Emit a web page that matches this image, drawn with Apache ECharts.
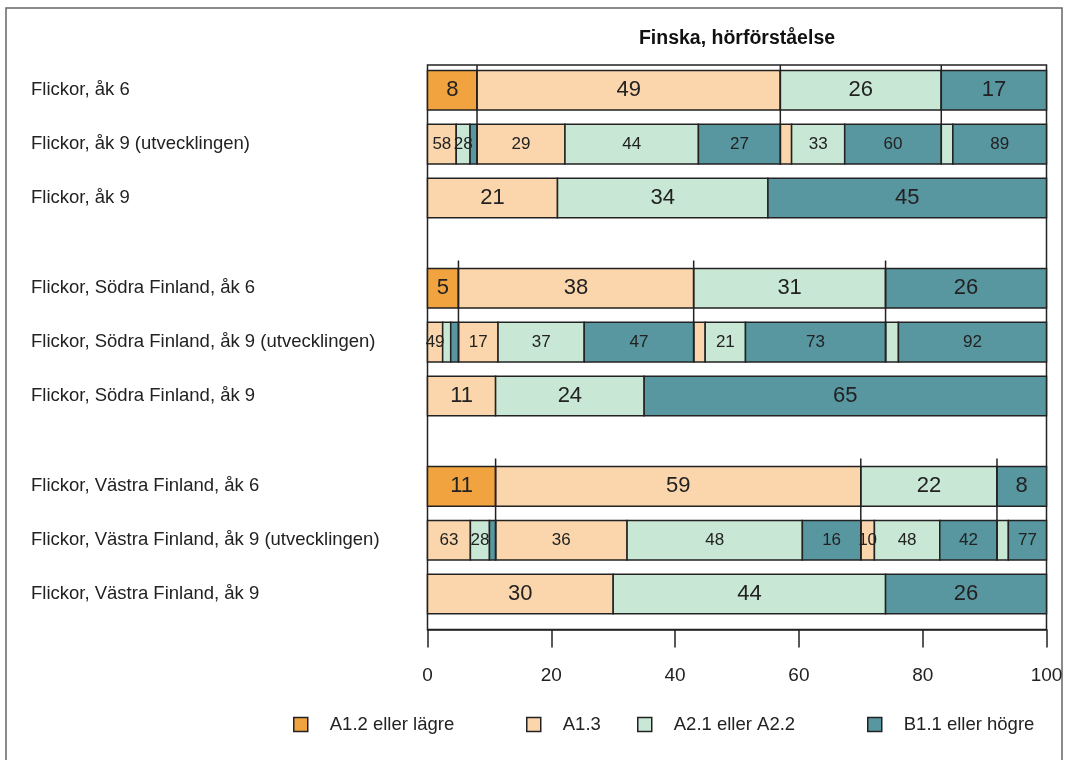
<!DOCTYPE html>
<html>
<head>
<meta charset="utf-8">
<title>Finska, hörförståelse</title>
<script src="https://cdn.jsdelivr.net/npm/echarts@6/dist/echarts.min.js"></script>
<style>
  html, body { margin: 0; padding: 0; background: #fff; }
  #chart { width: 1067px; height: 760px; }
</style>
</head>
<body>
<div id="chart"></div>
<script>
// radnamn uppifrån och ner
const rowLabels = [
  'Flickor, åk 6',
  'Flickor, åk 9 (utvecklingen)',
  'Flickor, åk 9',
  'Flickor, Södra Finland, åk 6',
  'Flickor, Södra Finland, åk 9 (utvecklingen)',
  'Flickor, Södra Finland, åk 9',
  'Flickor, Västra Finland, åk 6',
  'Flickor, Västra Finland, åk 9 (utvecklingen)',
  'Flickor, Västra Finland, åk 9'
]
const levels = ['A1.2 eller lägre', 'A1.3', 'A2.1 eller A2.2', 'B1.1 eller högre']
const colors = ['#F0A33F', '#FBD5AB', '#C8E7D5', '#5896A0']

// andel (%) per nivå i åk 6 – Flickor, Södra, Västra
const grade6 = [
  [8, 49, 26, 17],
  [5, 38, 31, 26],
  [11, 59, 22, 8]
]
// andel (%) per nivå i åk 9
const grade9 = [
  [0, 21, 34, 45],
  [0, 11, 24, 65],
  [0, 30, 44, 26]
]
// utvecklingen: för varje nivå i åk 6, hur de fördelar sig (%) i åk 9
const flickorUtv = [[0, 58, 28, 14], [0, 29, 44, 27], [0, 7, 33, 60], [0, 0, 11, 89]]
const sodraUtv = [[0, 49, 26, 25], [0, 17, 37, 47], [0, 6, 21, 73], [0, 0, 8, 92]]
const vastraUtv = [[0, 63, 28, 9], [0, 36, 48, 16], [0, 10, 48, 42], [0, 0, 23, 77]]
const xTicks = [0, 20, 40, 60, 80, 100]

const utv = [flickorUtv, sodraUtv, vastraUtv]
const sansFont = "'Liberation Sans', Arial, sans-serif"
const narrowFont = "'Liberation Sans Narrow', 'Arial Narrow', 'Liberation Sans', sans-serif"

// layout: tre rader per grupp, lite luft mellan grupperna
const groupStep = 3.68
const barHeight = 0.735
const minLabelWidth = 2.15
const rowPos = rowLabels.map((_, i) => Math.floor(i / 3) * groupStep + i % 3)

// bygg segmenten: [start, slut, rad, etikett, huvudrad?]
const segments = levels.map(() => [])
const connectors = []

function addPlain(values, pos) {
  let cum = 0
  values.forEach((v, k) => {
    if (v > 0) segments[k].push([cum, cum + v, pos, v, 1])
    cum += v
  })
}

grade6.forEach((row6, g) => {
  const pos = rowPos[g * 3]
  addPlain(row6, pos)
  addPlain(grade9[g], pos + 2)
  let cum = 0
  row6.forEach((share, k) => {
    const split = utv[g][k]
    const total = split.reduce((a, b) => a + b, 0)
    split.forEach((pct, j) => {
      if (pct > 0) {
        const w = share * pct / total
        segments[j].push([cum, cum + w, pos + 1, pct, 0])
        cum += w
      }
    })
    if (k < row6.length - 1) connectors.push([cum, pos])
  })
})

function renderSegment(params, api) {
  const x0 = api.value(0)
  const x1 = api.value(1)
  const pos = api.value(2)
  const start = api.coord([x0, pos])
  const end = api.coord([x1, pos])
  const h = api.size([0, barHeight])[1]
  const isMain = api.value(4) === 1
  const el = {
    type: 'rect',
    shape: { x: start[0], y: start[1] - h / 2, width: end[0] - start[0], height: h },
    style: { fill: api.visual('color'), stroke: '#222', lineWidth: 1.5 }
  }
  if (isMain || x1 - x0 >= minLabelWidth) {
    el.textContent = {
      style: { text: String(api.value(3)), fill: '#222', fontSize: isMain ? 22 : 17, fontFamily: narrowFont }
    }
    el.textConfig = { position: 'inside' }
  }
  return el
}

// lodräta linjer som kopplar åk 6 till utvecklingen
function renderConnector(params, api) {
  const top = api.coord([api.value(0), api.value(1)])
  const bottom = api.coord([api.value(0), api.value(1) + 1])
  const h = api.size([0, barHeight])[1]
  return {
    type: 'line',
    shape: { x1: top[0], y1: top[1] - h / 2 - 8, x2: bottom[0], y2: bottom[1] + h / 2 },
    style: { stroke: '#222', lineWidth: 1.5 }
  }
}

const series = levels.map((name, k) => ({
  name: name,
  type: 'custom',
  renderItem: renderSegment,
  data: segments[k],
  encode: { x: [0, 1], y: 2 },
  itemStyle: { color: colors[k] },
  z: 2
}))
series.push({
  type: 'custom',
  renderItem: renderConnector,
  data: connectors,
  encode: { x: 0, y: 1 },
  clip: true,
  silent: true,
  z: 3
})

const legendLeft = [293, 526, 637, 867]

const option = {
  animation: false,
  title: {
    text: 'Finska, hörförståelse',
    left: 737,
    textAlign: 'center',
    top: 29,
    padding: 0,
    textStyle: { fontFamily: sansFont, fontSize: 19.5, fontWeight: 'bold', color: '#111' }
  },
  legend: levels.map((name, i) => ({
    data: [name],
    left: legendLeft[i],
    top: 715,
    padding: 0,
    icon: 'rect',
    itemWidth: 14,
    itemHeight: 14,
    selectedMode: false,
    itemStyle: { borderColor: '#222', borderWidth: 1.5 },
    textStyle: { fontFamily: sansFont, fontSize: 18.5, color: '#222', padding: [0, 0, 0, 17] }
  })),
  grid: {
    left: 427.5,
    right: 20.5,
    top: 65,
    bottom: 130.5,
    show: true,
    borderColor: '#222',
    borderWidth: 1.5,
    outerBoundsMode: 'none'
  },
  xAxis: {
    type: 'value',
    min: xTicks[0],
    max: xTicks[xTicks.length - 1],
    interval: xTicks[1] - xTicks[0],
    axisLine: { show: true, onZero: false, lineStyle: { color: '#222', width: 1.5 } },
    axisTick: { show: true, inside: false, length: 18, lineStyle: { color: '#222', width: 1.5 } },
    axisLabel: { margin: 37, fontFamily: sansFont, fontSize: 19, color: '#222' },
    splitLine: { show: false }
  },
  yAxis: {
    type: 'value',
    inverse: true,
    min: -0.47,
    max: 10.02,
    axisLine: { show: false },
    axisTick: { show: false },
    splitLine: { show: false },
    axisLabel: {
      customValues: rowPos,
      align: 'left',
      margin: 396.5,
      fontFamily: sansFont,
      fontSize: 18.5,
      color: '#222',
      formatter: function (v) {
        const i = rowPos.findIndex(p => Math.abs(p - v) < 1e-6)
        return i >= 0 ? rowLabels[i] : ''
      }
    }
  },
  graphic: [{
    type: 'rect',
    silent: true,
    shape: { x: 6, y: 8, width: 1056, height: 770 },
    style: { fill: 'none', stroke: '#666', lineWidth: 1.5 }
  }],
  series: series
}

const mychart = echarts.init(document.getElementById('chart'))
mychart.setOption(option)
window.onresize = function () {
  mychart.resize()
}
</script>
</body>
</html>
